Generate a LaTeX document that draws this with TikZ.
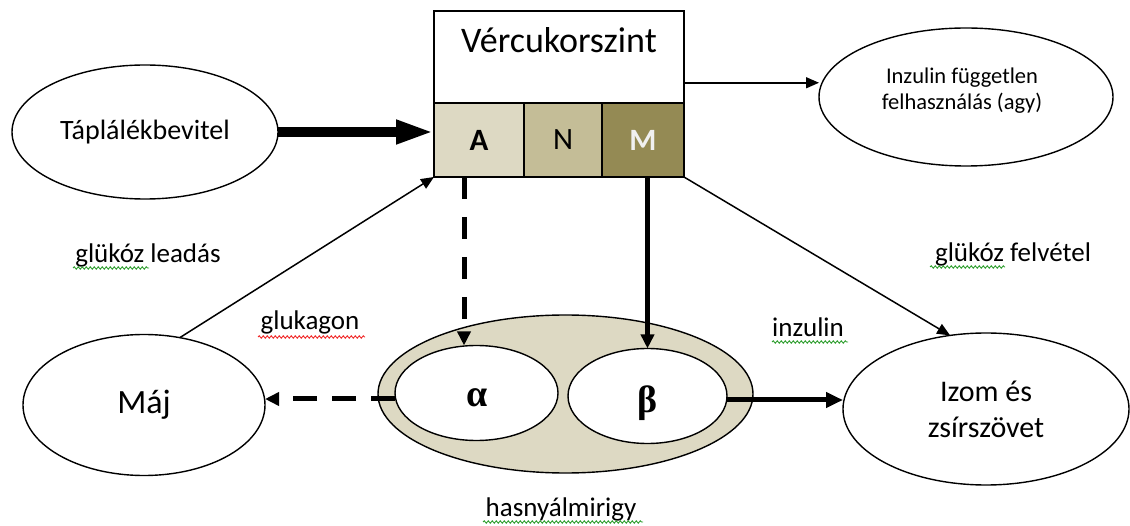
\documentclass[tikz,border=0pt]{standalone}
\usepackage{fontspec}
\setmainfont{Carlito}
\newfontfamily\greekfont{Liberation Serif}
\usetikzlibrary{arrows.meta,decorations.pathmorphing,shapes.geometric,calc}

\definecolor{tanlight}{HTML}{DDD9C3}
\definecolor{tanmid}{HTML}{C4BD97}
\definecolor{tandark}{HTML}{948A54}
\definecolor{spellgreen}{HTML}{2E9E2E}
\definecolor{spellred}{HTML}{F02828}

\begin{document}
\begin{tikzpicture}[x=1pt,y=-1pt,
  every node/.style={inner sep=0pt, outer sep=0pt, text=black},
  oval/.style={ellipse, draw=black, line width=1.4pt, fill=white},
  cell/.style={rectangle, draw=black, line width=1.4pt, minimum height=74pt,
               font=\fontsize{31}{34}\selectfont},
  tag/.style={anchor=base, font=\fontsize{27}{30}\selectfont},
  greek/.style={font=\fontsize{38}{40}\greekfont\bfseries},
  plainarrow/.style={line width=1.5pt, -{Triangle[length=13pt,width=11pt]}},
  heavyarrow/.style={line width=10pt, -{Triangle[length=38pt,width=22pt]}},
  boldarrow/.style={line width=5pt, -{Triangle[length=14pt,width=13pt]}},
  dasharrow/.style={line width=5pt, -{Triangle[length=14pt,width=13pt]}},
  squiggle/.style={line width=0.9pt, decorate,
                   decoration={snake, segment length=4pt, amplitude=1.2pt}}
]
\useasboundingbox (0,0) rectangle (1130,526);

% blood sugar level box with its three cells
\node[rectangle, draw=black, line width=1.5pt, minimum width=250pt,
      minimum height=92pt] (vc) at (559,57) {};
\node[anchor=base, font=\fontsize{36}{40}\selectfont] (vctitle) at (559,53) {Vércukorszint};
\node[cell, fill=tanlight, minimum width=90pt] (A) at (479,140) {\textbf{A}};
\node[cell, fill=tanmid, minimum width=78pt] (N) at (563,140) {N};
\node[cell, fill=tandark, minimum width=82pt, text=white!94!black] (M) at (643,140) {\textbf{M}};

% outer ovals
\node[oval, minimum width=266pt, minimum height=134pt,
      font=\fontsize{28}{32}\selectfont] (tapl) at (145,132) {Táplálékbevitel};
\node[oval, minimum width=294pt, minimum height=138pt] (inz) at (966,97) {};
\node[align=center, font=\fontsize{22.5}{26}\selectfont] (inztext) at (962,91)
      {Inzulin független\\felhasználás (agy)};
\node[oval, minimum width=242pt, minimum height=141pt,
      font=\fontsize{34}{38}\selectfont] (maj) at (144,405) {Máj};
\node[oval, minimum width=286pt, minimum height=152pt, align=center,
      font=\fontsize{30}{36}\selectfont] (izom) at (986,409) {Izom és\\zsírszövet};

% pancreas with alpha and beta cells
\node[ellipse, draw=black, line width=1.4pt, fill=tanlight,
      minimum width=375pt, minimum height=158pt] (panc) at (565.5,394) {};
\node[oval, minimum width=163pt, minimum height=95pt] (alpha) at (476.5,393) {};
\node[oval, minimum width=159pt, minimum height=95pt] (beta) at (647.5,396) {};
\node[greek] (alphasym) at (477,398) {α};
\node[greek] (betasym) at (648,403) {β};

% connectors
\coordinate (vcout) at ($(vc.north east)!0.78!(vc.south east)$);
\draw[heavyarrow] (tapl.east) -- (tapl.east -| A.west);
\draw[plainarrow] (vcout) -- (vcout -| inz.west);
\draw[plainarrow] (maj.62) -- (A.south west);
\draw[plainarrow] (M.south east) -- (izom.116);
\draw[dasharrow, dash pattern=on 22pt off 18pt]
     ([xshift=-15pt]A.south) -- ([xshift=-15pt]A.south |- alpha.north);
\draw[boldarrow] (M.south -| beta.north) -- (beta.north);
\draw[dasharrow, dash pattern=on 24pt off 15pt]
     ([yshift=-6pt]alpha.west) -- ([yshift=-6pt]alpha.west -| maj.east);
\draw[line width=5pt, -{Triangle[length=17pt,width=15pt]}]
     ([yshift=-4pt]beta.east) -- ([yshift=-4pt]beta.east -| izom.west);

% labels
\node[tag] (lead) at (148,263) {glükóz leadás};
\node[tag] (glukagon) at (310,330) {glukagon};
\node[tag] (felv) at (1013,262) {glükóz felvétel};
\node[tag] (inzulin) at (808,337) {inzulin};
\node[tag] (hasny) at (561,516) {hasnyálmirigy};

% proofing underlines
\draw[squiggle, spellgreen] (73,268) -- (149,268);
\draw[squiggle, spellred] (258,337) -- (365,337);
\draw[squiggle, spellgreen] (930,267) -- (1005,267);
\draw[squiggle, spellgreen] (772,342) -- (848,342);
\draw[squiggle, spellgreen] (483,522) -- (643,522);
\end{tikzpicture}
\end{document}
